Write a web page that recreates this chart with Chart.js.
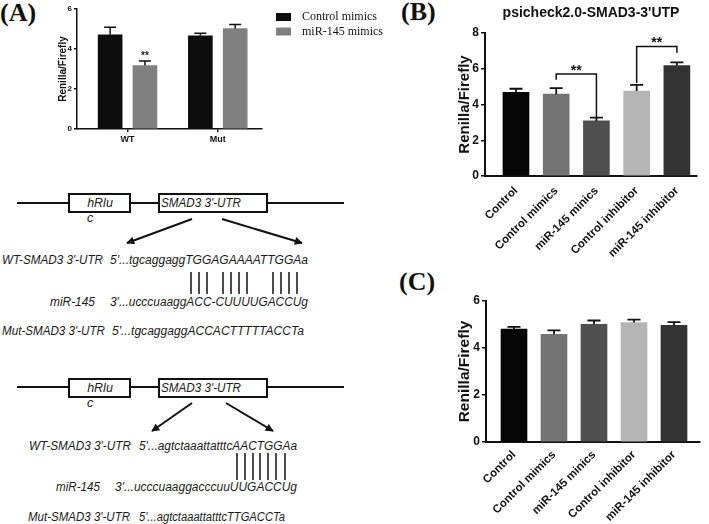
<!DOCTYPE html>
<html lang="en">
<head>
<meta charset="utf-8">
<title>SMAD3 3'-UTR luciferase</title>
<script src="https://cdn.jsdelivr.net/npm/chart.js"></script>
<style>
html,body{margin:0;padding:0;background:#fff;}
#page{position:relative;width:709px;height:524px;overflow:hidden;background:#fff;}
#page svg,#page canvas{position:absolute;}
.seq{font-family:"Liberation Sans",Arial,sans-serif;font-style:italic;font-size:12.5px;fill:#1a1a1a;}
.tag{font-family:"Liberation Serif","Times New Roman",serif;font-weight:bold;font-size:26px;fill:#111;}
</style>
</head>
<body>
<div id="page">
<svg width="709" height="524" style="left:0px;top:0px">
  <defs>
    <marker id="ah" viewBox="0 0 10 10" refX="9" refY="5" markerWidth="10" markerHeight="8" markerUnits="userSpaceOnUse" orient="auto">
      <path d="M0,0 L10,5 L0,10 z" fill="#111"/>
    </marker>
  </defs>
  <text class="tag" x="0" y="21">(A)</text>
  <text class="tag" x="401" y="20">(B)</text>
  <text class="tag" x="399" y="290">(C)</text>

  <!-- 構築圖 1 -->
  <g stroke="#111" stroke-width="2" fill="none">
    <line x1="17" y1="203" x2="344" y2="203"/>
    <rect x="69" y="194" width="61" height="18" fill="#fff"/>
    <rect x="159" y="194" width="108" height="18" fill="#fff"/>
    <line x1="192" y1="219" x2="127" y2="243" marker-end="url(#ah)"/>
    <line x1="222" y1="219" x2="302" y2="243" marker-end="url(#ah)"/>
  </g>
  <g stroke="#111" stroke-width="1.5">
    <line x1="191" y1="272" x2="191" y2="294"/><line x1="199" y1="272" x2="199" y2="294"/>
    <line x1="207" y1="272" x2="207" y2="294"/><line x1="223" y1="272" x2="223" y2="294"/>
    <line x1="231" y1="272" x2="231" y2="294"/><line x1="239" y1="272" x2="239" y2="294"/>
    <line x1="247" y1="272" x2="247" y2="294"/><line x1="273" y1="272" x2="273" y2="294"/>
    <line x1="281" y1="272" x2="281" y2="294"/><line x1="289" y1="272" x2="289" y2="294"/>
    <line x1="297" y1="272" x2="297" y2="294"/>
  </g>
  <text class="seq" x="100" y="207" text-anchor="middle">hRlu</text>
  <text class="seq" x="90" y="222" text-anchor="middle">c</text>
  <text class="seq" x="161" y="207" textLength="80" lengthAdjust="spacingAndGlyphs">SMAD3 3'-UTR</text>
  <text class="seq" x="2" y="264" textLength="101" lengthAdjust="spacingAndGlyphs">WT-SMAD3 3'-UTR</text>
  <text class="seq" x="110" y="264" textLength="198" lengthAdjust="spacingAndGlyphs">5'...tgcaggaggTGGAGAAAATTGGAa</text>
  <text class="seq" x="50" y="306" textLength="45" lengthAdjust="spacingAndGlyphs">miR-145</text>
  <text class="seq" x="110" y="306" textLength="198" lengthAdjust="spacingAndGlyphs">3'...ucccuaaggACC-CUUUUGACCUg</text>
  <text class="seq" x="2" y="335" textLength="103" lengthAdjust="spacingAndGlyphs">Mut-SMAD3 3'-UTR</text>
  <text class="seq" x="112" y="335" textLength="192" lengthAdjust="spacingAndGlyphs">5'...tgcaggaggACCACTTTTTACCTa</text>

  <!-- 構築圖 2 -->
  <g stroke="#111" stroke-width="2" fill="none">
    <line x1="17" y1="387" x2="344" y2="387"/>
    <rect x="69" y="379" width="61" height="18" fill="#fff"/>
    <rect x="159" y="379" width="108" height="18" fill="#fff"/>
    <line x1="192" y1="403" x2="152" y2="431" marker-end="url(#ah)"/>
    <line x1="226" y1="403" x2="273" y2="431" marker-end="url(#ah)"/>
  </g>
  <g stroke="#111" stroke-width="1.5">
    <line x1="237" y1="453" x2="237" y2="480"/><line x1="245" y1="453" x2="245" y2="480"/>
    <line x1="253" y1="453" x2="253" y2="480"/><line x1="260" y1="453" x2="260" y2="480"/>
    <line x1="268" y1="453" x2="268" y2="480"/><line x1="276" y1="453" x2="276" y2="480"/>
    <line x1="285" y1="453" x2="285" y2="480"/>
  </g>
  <text class="seq" x="100" y="392" text-anchor="middle">hRlu</text>
  <text class="seq" x="90" y="407" text-anchor="middle">c</text>
  <text class="seq" x="161" y="392" textLength="80" lengthAdjust="spacingAndGlyphs">SMAD3 3'-UTR</text>
  <text class="seq" x="29" y="450" textLength="102" lengthAdjust="spacingAndGlyphs">WT-SMAD3 3'-UTR</text>
  <text class="seq" x="139" y="450" textLength="158" lengthAdjust="spacingAndGlyphs">5'...agtctaaattatttcAACTGGAa</text>
  <text class="seq" x="56" y="491" textLength="44" lengthAdjust="spacingAndGlyphs">miR-145</text>
  <text class="seq" x="115" y="491" textLength="182" lengthAdjust="spacingAndGlyphs">3'...ucccuaaggacccuuUUGACCUg</text>
  <text class="seq" x="28" y="521" textLength="102" lengthAdjust="spacingAndGlyphs">Mut-SMAD3 3'-UTR</text>
  <text class="seq" x="139" y="521" textLength="146" lengthAdjust="spacingAndGlyphs">5'...agtctaaattatttcTTGACCTa</text>
</svg>
<canvas id="chartA" width="395" height="150" style="left:0px;top:0px"></canvas>
<canvas id="chartB" width="269" height="270" style="left:440px;top:0px"></canvas>
<canvas id="chartC" width="269" height="254" style="left:440px;top:270px"></canvas>
</div>

<script>
/* ===== 資料 ===== */
const catsA = ['WT', 'Mut'];
const seriesA = ['Control mimics', 'miR-145 mimics'];
const ctrlA = [4.71, 4.66];
const ctrlErrA = [0.38, 0.13];
const mirA = [3.17, 5.02];
const mirErrA = [0.23, 0.20];
const starsA = [{ds:1, idx:0, text:'**'}];

const catsBC = ['Control', 'Control mimics', 'miR-145 minics', 'Control inhibitor', 'miR-145 inhibitor'];
const valsB = [4.68, 4.58, 3.08, 4.75, 6.18];
const errB  = [0.20, 0.34, 0.19, 0.35, 0.18];
const sigB  = [
  {from:1, to:2, left:5.38, top:5.70, right:3.30, text:'**'},
  {from:3, to:4, left:5.20, top:7.25, right:6.90, text:'**'}
];
const valsC = [4.80, 4.58, 5.01, 5.08, 4.96];
const errC  = [0.10, 0.17, 0.16, 0.13, 0.14];

const colorsA  = ['#0d0d0d', '#808080'];
const colorsBC = ['#050505', '#737373', '#4f4f4f', '#b5b5b5', '#333333'];

Chart.defaults.font.family = '"Liberation Sans", Arial, sans-serif';
Chart.defaults.color = '#111';

/* ===== 外掛：誤差線 / 顯著性 / 圖例 ===== */
const errorBars = {
  id:'errorBars',
  afterDatasetsDraw(chart, args, o){
    const {ctx, scales:{y}} = chart;
    ctx.save();
    ctx.strokeStyle = '#111'; ctx.lineWidth = o.width || 1.5;
    chart.data.datasets.forEach((ds, i)=>{
      if(!ds.errs) return;
      chart.getDatasetMeta(i).data.forEach((bar, j)=>{
        const top = y.getPixelForValue(ds.data[j].y + ds.errs[j]);
        const half = bar.width * o.cap;
        ctx.beginPath();
        ctx.moveTo(bar.x, bar.y); ctx.lineTo(bar.x, top);
        ctx.moveTo(bar.x - half, top); ctx.lineTo(bar.x + half, top);
        ctx.stroke();
      });
    });
    ctx.restore();
  }
};

const brackets = {
  id:'brackets',
  afterDatasetsDraw(chart, args, o){
    if(!o.items) return;
    const {ctx, scales:{x, y}} = chart;
    ctx.save();
    ctx.strokeStyle = '#111'; ctx.fillStyle = '#111'; ctx.lineWidth = 1.5;
    ctx.font = 'bold 14px "Liberation Sans", Arial, sans-serif';
    ctx.textAlign = 'center'; ctx.textBaseline = 'alphabetic';
    o.items.forEach(s=>{
      const x1 = x.getPixelForValue(s.from), x2 = x.getPixelForValue(s.to);
      const yt = y.getPixelForValue(s.top);
      ctx.beginPath();
      ctx.moveTo(x1, y.getPixelForValue(s.left)); ctx.lineTo(x1, yt);
      ctx.lineTo(x2, yt); ctx.lineTo(x2, y.getPixelForValue(s.right));
      ctx.stroke();
      ctx.fillText(s.text, (x1 + x2) / 2, yt + o.dy);
    });
    ctx.restore();
  }
};

const barStars = {
  id:'barStars',
  afterDatasetsDraw(chart, args, o){
    if(!o.items) return;
    const {ctx, scales:{y}} = chart;
    ctx.save();
    ctx.fillStyle = '#222'; ctx.font = 'bold 10px "Liberation Sans", Arial, sans-serif';
    ctx.textAlign = 'center'; ctx.textBaseline = 'alphabetic';
    o.items.forEach(s=>{
      const ds = chart.data.datasets[s.ds];
      const bar = chart.getDatasetMeta(s.ds).data[s.idx];
      const top = y.getPixelForValue(ds.data[s.idx].y + ds.errs[s.idx]);
      ctx.fillText(s.text, bar.x, top - 2);
    });
    ctx.restore();
  }
};

const sideLegend = {
  id:'sideLegend',
  afterDraw(chart, args, o){
    const ctx = chart.ctx;
    ctx.save();
    ctx.font = '12px "Liberation Serif", "Times New Roman", serif';
    ctx.textBaseline = 'middle';
    chart.data.datasets.forEach((ds, i)=>{
      const yy = o.y + i * o.gap;
      ctx.fillStyle = ds.backgroundColor; ctx.fillRect(o.x, yy - 4, 15, 8);
      ctx.fillStyle = '#111'; ctx.fillText(ds.label, o.textX, yy);
    });
    ctx.restore();
  }
};

/* ===== 座標軸 ===== */
function xAxis(cats, min, max, height, font, rot, tickLen, bw, pad){
  return {
    type:'linear', min, max, offset:false,
    afterBuildTicks: s=>{ s.ticks = cats.map((c, i)=>({value:i})); },
    afterFit: s=>{ s.height = height; },
    grid:{offset:false, drawOnChartArea:false, drawTicks:tickLen > 0, tickLength:tickLen, color:'#111', lineWidth:1.5},
    border:{display:true, color:'#111', width:bw},
    ticks:{callback:(v, i)=>cats[i], autoSkip:false, minRotation:rot, maxRotation:rot, font, color:'#111', padding:pad}
  };
}
function yAxis(max, width, title, titleFont, titlePad, tickFont, tickLen, bw){
  return {
    min:0, max,
    afterFit: s=>{ s.width = width; },
    grid:{drawOnChartArea:false, drawTicks:true, tickLength:tickLen, color:'#111', lineWidth:1.5},
    border:{display:true, color:'#111', width:bw},
    ticks:{stepSize:2, font:tickFont, color:'#111', padding:2},
    title:{display:true, text:title, font:titleFont, color:'#111', padding:{top:titlePad, bottom:0}}
  };
}
const basePlugins = {legend:{display:false}, tooltip:{enabled:false}};

/* ===== (A) WT / Mut ===== */
const offA = 0.193;
new Chart(document.getElementById('chartA'), {
  type:'bar',
  data:{ datasets:[
    { label:seriesA[0], data:ctrlA.map((v, i)=>({x:i - offA, y:v})), errs:ctrlErrA,
      backgroundColor:colorsA[0], barThickness:24, maxBarThickness:24 },
    { label:seriesA[1], data:mirA.map((v, i)=>({x:i + offA, y:v})), errs:mirErrA,
      backgroundColor:colorsA[1], barThickness:24, maxBarThickness:24 }
  ]},
  options:{
    responsive:false, animation:false,
    datasets:{bar:{grouped:false}},
    layout:{padding:{top:9, left:0, right:133, bottom:0}},
    plugins:{...basePlugins,
      errorBars:{cap:0.25, width:1.5},
      barStars:{items:starsA},
      sideLegend:{x:276, y:17, gap:14.5, textX:302}},
    scales:{
      x:xAxis(catsA, -0.56, 1.49, 21, {size:9, weight:'bold'}, 0, 3, 1.5, 2),
      y:yAxis(6, 77, 'Renilla/Firefly', {size:10, weight:'bold'}, 57, {size:8, weight:'bold'}, 3, 1.5)
    }
  },
  plugins:[errorBars, barStars, sideLegend]
});

/* ===== (B) psicheck2.0-SMAD3-3'UTP ===== */
new Chart(document.getElementById('chartB'), {
  type:'bar',
  data:{ datasets:[{
    data:valsB.map((v, i)=>({x:i, y:v})), errs:errB,
    backgroundColor:colorsBC, barThickness:26, maxBarThickness:26
  }]},
  options:{
    responsive:false, animation:false,
    layout:{padding:{top:0, left:0, right:12, bottom:0}},
    plugins:{...basePlugins,
      title:{display:true, text:"psicheck2.0-SMAD3-3'UTP", fullSize:false, color:'#111',
             font:{size:14, weight:'bold'}, padding:{top:5, bottom:11.2}},
      errorBars:{cap:0.25, width:1.8},
      brackets:{items:sigB, dy:1}},
    scales:{
      x:xAxis(catsBC, -0.77, 4.5, 94, {size:11.5, weight:'bold'}, 45, 0, 2, 8),
      y:yAxis(8, 45, 'Renilla/Firefly', {size:15, weight:'bold'}, 16, {size:12, weight:'bold'}, 4, 2)
    }
  },
  plugins:[errorBars, brackets]
});

/* ===== (C) ===== */
new Chart(document.getElementById('chartC'), {
  type:'bar',
  data:{ datasets:[{
    data:valsC.map((v, i)=>({x:i, y:v})), errs:errC,
    backgroundColor:colorsBC, barThickness:26, maxBarThickness:26
  }]},
  options:{
    responsive:false, animation:false,
    layout:{padding:{top:31, left:0, right:9, bottom:0}},
    plugins:{...basePlugins, errorBars:{cap:0.25, width:1.8}},
    scales:{
      x:xAxis(catsBC, -0.7, 4.65, 82, {size:11.5, weight:'bold'}, 45, 0, 2, 6),
      y:yAxis(6, 46, 'Renilla/Firefly', {size:15.5, weight:'bold'}, 15.7, {size:12, weight:'bold'}, 4, 2)
    }
  },
  plugins:[errorBars]
});
</script>
</body>
</html>
